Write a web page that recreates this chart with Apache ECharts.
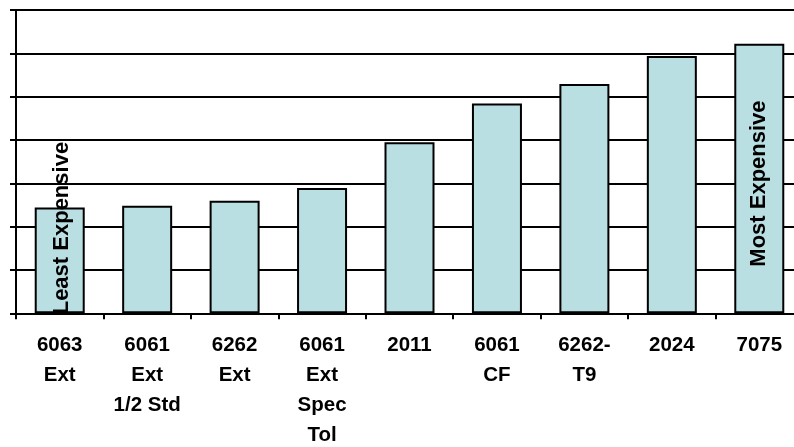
<!DOCTYPE html>
<html>
<head>
<meta charset="utf-8">
<style>
  html, body { margin: 0; padding: 0; background: #ffffff; overflow: hidden; }
  #chart { width: 794px; height: 447px; overflow: hidden; position: relative; }
</style>
<script src="https://cdn.jsdelivr.net/npm/echarts@6/dist/echarts.min.js"></script>
</head>
<body>
<div id="chart"></div>
<script>
// Alloy grades, relative cost (grid units)
const categories = [
  '6063\nExt', '6061\nExt\n1/2 Std', '6262\nExt', '6061\nExt\nSpec\nTol',
  '2011', '6061\nCF', '6262-\nT9', '2024', '7075'
];
const costValues = [2.44, 2.48, 2.60, 2.89, 3.95, 4.84, 5.29, 5.94, 6.22];
const yTicks = { min: 0, max: 7, interval: 1 };
const endNotes = { first: 'Least Expensive', last: 'Most Expensive' };

const chart = echarts.init(document.getElementById('chart'), null, { renderer: 'canvas' });

const noteFont = {
  show: true,
  rotate: 90,
  color: '#000',
  fontFamily: 'Liberation Sans, Arial, sans-serif',
  fontWeight: 'bold',
  fontSize: 22
};

const seriesData = costValues.map((v, i) => {
  if (i === 0) {
    return {
      value: v,
      label: Object.assign({}, noteFont, {
        formatter: endNotes.first,
        position: 'insideBottom',
        align: 'left',
        verticalAlign: 'middle',
        distance: 1,
        offset: [-2, 2]
      })
    };
  }
  if (i === costValues.length - 1) {
    return {
      value: v,
      label: Object.assign({}, noteFont, {
        formatter: endNotes.last,
        position: 'inside',
        align: 'center',
        verticalAlign: 'middle',
        offset: [-5, 0]
      })
    };
  }
  return { value: v };
});

chart.setOption({
  animation: false,
  backgroundColor: '#ffffff',
  grid: {
    left: 16, top: 10, width: 787, height: 303.3,
    containLabel: false,
    outerBoundsMode: 'none'
  },
  xAxis: {
    type: 'category',
    data: categories,
    axisLine: { show: true, lineStyle: { color: '#000', width: 2 } },
    axisTick: { show: true, alignWithLabel: false, length: 6, lineStyle: { color: '#000', width: 2 } },
    axisLabel: {
      color: '#000',
      fontFamily: 'Liberation Sans, Arial, sans-serif',
      fontWeight: 'bold',
      fontSize: 20.5,
      lineHeight: 30,
      margin: 17,
      interval: 0,
      align: 'center',
      verticalAlign: 'top'
    },
    splitLine: { show: false }
  },
  yAxis: {
    type: 'value',
    min: yTicks.min,
    max: yTicks.max,
    interval: yTicks.interval,
    axisLine: { show: true, lineStyle: { color: '#000', width: 2 } },
    axisTick: { show: true, length: 6, lineStyle: { color: '#000', width: 2 } },
    axisLabel: { show: false },
    splitLine: { show: true, lineStyle: { color: '#000', width: 2 } }
  },
  series: [{
    type: 'bar',
    data: seriesData,
    barWidth: 50,
    itemStyle: { color: '#b9dfe2', borderColor: '#000', borderWidth: 2 },
    label: { show: false }
  }]
});
</script>
</body>
</html>
